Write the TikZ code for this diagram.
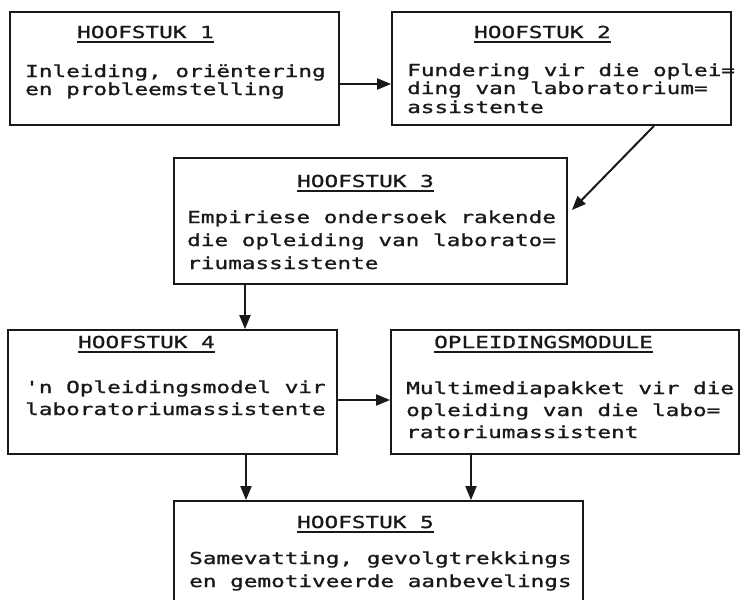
\documentclass[tikz,border=0pt]{standalone}
\usepackage{fontspec}
\newfontfamily\tw[FakeStretch=1.375,FakeBold=1.2]{DejaVu Sans Mono}
\usetikzlibrary{arrows.meta}
\begin{document}
\begin{tikzpicture}[x=1pt,y=-1pt,
  box/.style={draw=black!90, line width=1.8pt, inner sep=0pt},
  txt/.style={anchor=base west, inner sep=0pt, font=\tw\fontsize{16.5}{18}\selectfont, text=black!90},
  ul/.style={line width=1.6pt, black!90},
  arr/.style={line width=2pt, black!90, -{Triangle[length=14pt,width=11pt]}}]
\useasboundingbox (0,0) rectangle (742,600);
\fill[white] (0,0) rectangle (742,600);
\clip (0,0) rectangle (742,600);
% boxes
\node[box, minimum width=329pt, minimum height=113pt] (b1) at (174.5,68.5) {};
\node[box, minimum width=339pt, minimum height=113pt] (b2) at (561.5,68.5) {};
\node[box, minimum width=393pt, minimum height=126pt] (b3) at (370.5,221) {};
\node[box, minimum width=329pt, minimum height=124pt] (b4) at (172.5,392) {};
\node[box, minimum width=348pt, minimum height=124pt] (b5) at (565,392) {};
\node[box, minimum width=409pt, minimum height=119pt] (b6) at (378.5,560.5) {};
% box 1
\node[txt] (h1) at (77,38) {HOOFSTUK 1};
\draw[ul] ([yshift=-4pt]h1.base west) -- ([yshift=-4pt]h1.base east);
\node[txt] (t1a) at (25,77) {Inleiding, oriëntering};
\node[txt] (t1b) at (25,95) {en probleemstelling};
% box 2
\node[txt] (h2) at (474,38) {HOOFSTUK 2};
\draw[ul] ([yshift=-4pt]h2.base west) -- ([yshift=-4pt]h2.base east);
\node[txt] (t2a) at (407,76) {Fundering vir die oplei=};
\node[txt] (t2b) at (407,94) {ding van laboratorium=};
\node[txt] (t2c) at (407,113) {assistente};
% box 3
\node[txt] (h3) at (297,187) {HOOFSTUK 3};
\draw[ul] ([yshift=-4pt]h3.base west) -- ([yshift=-4pt]h3.base east);
\node[txt] (t3a) at (187,223) {Empiriese ondersoek rakende};
\node[txt] (t3b) at (187,246) {die opleiding van laborato=};
\node[txt] (t3c) at (187,269) {riumassistente};
% box 4
\node[txt] (h4) at (78,348) {HOOFSTUK 4};
\draw[ul] ([yshift=-4pt]h4.base west) -- ([yshift=-4pt]h4.base east);
\node[txt] (t4a) at (25,393) {'n Opleidingsmodel vir};
\node[txt] (t4b) at (25,415) {laboratoriumassistente};
% box 5
\node[txt] (h5) at (434,348) {OPLEIDINGSMODULE};
\draw[ul] ([yshift=-4pt]h5.base west) -- ([yshift=-4pt]h5.base east);
\node[txt] (t5a) at (406,394) {Multimediapakket vir die};
\node[txt] (t5b) at (406,416) {opleiding van die labo=};
\node[txt] (t5c) at (406,438) {ratoriumassistent};
% box 6
\node[txt] (h6) at (297,528) {HOOFSTUK 5};
\draw[ul] ([yshift=-4pt]h6.base west) -- ([yshift=-4pt]h6.base east);
\node[txt] (t6a) at (189,564) {Samevatting, gevolgtrekkings};
\node[txt] (t6b) at (189,587) {en gemotiveerde aanbevelings};
% arrows
\draw[arr] ([yshift=-15.5pt]b1.east) -- ([yshift=-15.5pt]b2.west);
\draw[arr] ([xshift=92.5pt]b2.south) -- ([xshift=4pt,yshift=11pt]b3.east);
\draw[arr] ([xshift=-125.5pt]b3.south) -- ([xshift=72.5pt]b4.north);
\draw[arr] ([yshift=-8pt]b4.east) -- ([yshift=-8pt]b5.west);
\draw[arr] ([xshift=73.5pt]b4.south) -- ([xshift=-132.5pt]b6.north);
\draw[arr] ([xshift=-94pt]b5.south) -- ([xshift=92.5pt]b6.north);
\end{tikzpicture}
\end{document}
